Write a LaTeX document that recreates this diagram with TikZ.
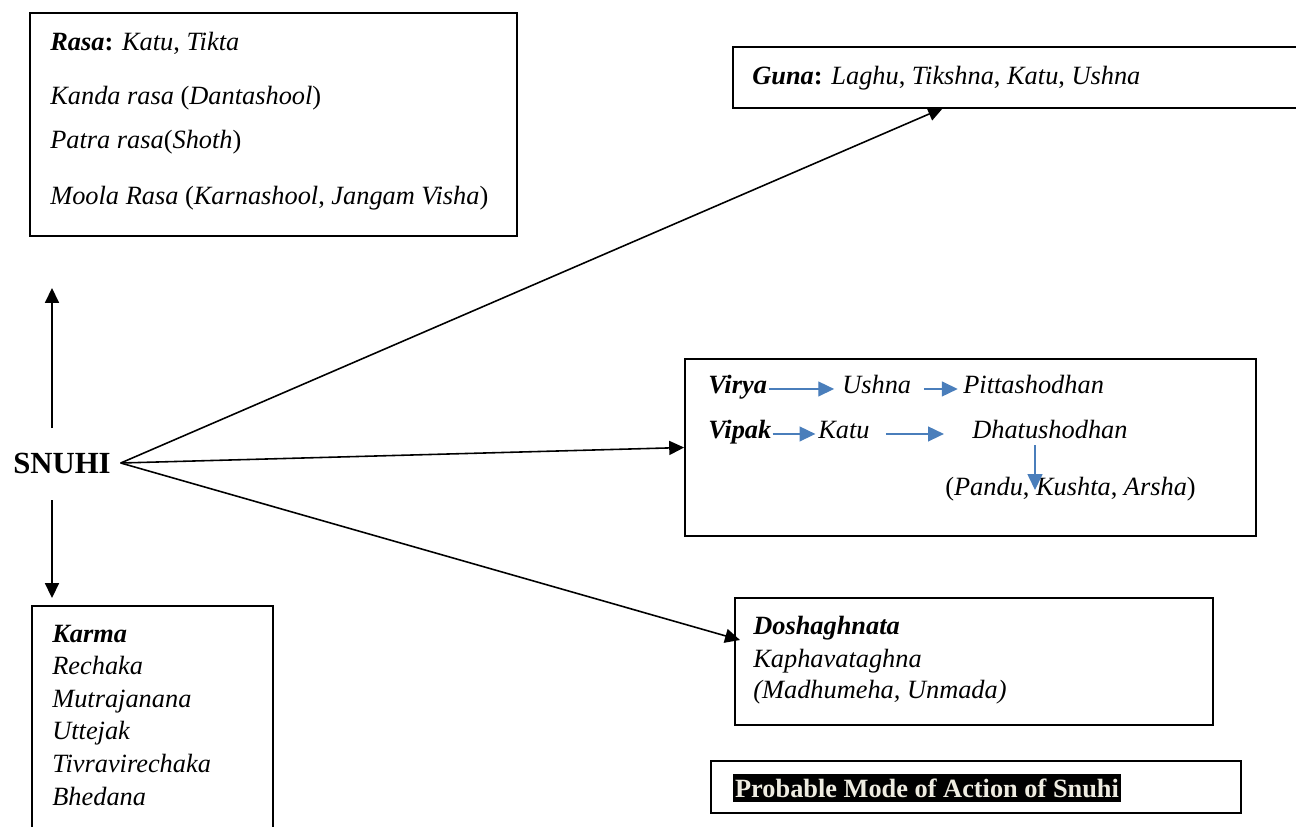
\documentclass[tikz,border=0pt]{standalone}
\usepackage{fontspec}
\setmainfont{Liberation Serif}
\usetikzlibrary{arrows.meta,fit}
\definecolor{vblue}{HTML}{4A7EBB}
\definecolor{cream}{HTML}{EEECE1}
\newcommand{\up}[1]{{\upshape #1}}
\tikzset{
    box/.style={draw, line width=1pt, inner sep=0pt},
    txt/.style={anchor=base west, inner sep=0pt, font=\fontsize{15}{18}\selectfont\itshape},
    link/.style={line width=0.9pt, -{Triangle[length=8.5pt,width=8pt]}},
    blink/.style={draw=vblue, line width=0.7pt, -{Triangle[length=9pt,width=8.5pt]}},
}
\begin{document}
\begin{tikzpicture}[x=0.02cm, y=-0.02cm]
                \useasboundingbox (0,0) rectangle (1296,826);
                
                % boxes
                \node[box, fit={(30,13) (517,236)}] (rasa) {};
                \node[box, fit={(733,47) (1310,108)}] (guna) {};
                \node[box, fit={(685,359) (1256,536)}] (virya) {};
                \node[box, fit={(735,598) (1213,725)}] (dosha) {};
                \node[box, fit={(32,606) (273,850)}] (karma) {};
                \node[box, fit={(711,761) (1241,813)}] (mode) {};
                
                \node[inner xsep=5.5pt, inner ysep=0pt, font=\fontsize{17.5}{20}\selectfont\bfseries] (snuhi) at (62,463) {SNUHI};
                
                % rasa
                \node[txt] (rasa1) at (50,50) {\textbf{Rasa}\up{\textbf{:}} Katu\up{,} Tikta};
                \node[txt] (rasa2) at (50,104) {Kanda rasa \up{(}Dantashool\up{)}};
                \node[txt] (rasa3) at (50,148) {Patra rasa\up{(}Shoth\up{)}};
                \node[txt] (rasa4) at (50,204) {Moola Rasa \up{(}Karnashool\up{,} Jangam Visha\up{)}};
                
                % guna
                \node[txt] (guna1) at (752,84) {\textbf{Guna}\up{\textbf{:}} Laghu\up{,} Tikshna\up{,} Katu\up{,} Ushna};
                
                % virya / vipak
                \node[txt] (viryalbl) at (708,393) {\textbf{Virya}};
                \node[txt] (ushna) at (842,393) {Ushna};
                \node[txt] (pitta) at (963,393) {Pittashodhan};
                \node[txt] (vipak) at (708,438) {\textbf{Vipak}};
                \node[txt] (katu) at (818,438) {Katu};
                \node[txt] (dhatu) at (972,438) {Dhatushodhan};
                \node[txt] (pandu) at (945,495) {\up{(}Pandu\up{,} Kushta\up{,} Arsha\up{)}};
                \coordinate (dfrom) at (1035,445);
                \coordinate (dto) at (1035,490);
                
                \draw[blink, shorten <=1pt, shorten >=4.5pt] (viryalbl.mid east) -- (ushna.mid west);
                \draw[blink, shorten <=7pt, shorten >=3pt] (ushna.mid east) -- (pitta.mid west);
                \draw[blink, shorten <=0.5pt, shorten >=1.5pt] (vipak.mid east) -- (katu.mid west);
                \draw[blink, shorten <=9pt, shorten >=16pt] (katu.mid east) -- (dhatu.mid west);
                \draw[blink] (dfrom) -- (dto);
                
                % doshaghnata
                \node[txt] (dosha1) at (753,634) {\textbf{Doshaghnata}};
                \node[txt] (dosha2) at (753,667) {Kaphavataghna};
                \node[txt] (dosha3) at (753,698) {(Madhumeha, Unmada)};
                
                % karma
                \node[txt] (karma0) at (52,642) {\textbf{Karma}};
                \foreach \w [count=\k from 1] in {Rechaka, Mutrajanana, Uttejak, Tivravirechaka, Bhedana} {
                    \node[txt] (karma\k) at (52,642+32.6*\k) {\w};
                }
                
                % title
                \node[anchor=base west, fill=black, text=cream, inner xsep=1pt, inner ysep=2.5pt,
                      font=\fontsize{15}{18}\selectfont\bfseries] (modetxt) at (733,797) {Probable Mode of Action of Snuhi};
                
                % connectors
                \coordinate (upfrom) at (52,428);
                \coordinate (upto) at (52,288);
                \coordinate (downfrom) at (52,500);
                \coordinate (downto) at (52,598);
                \coordinate (gunain) at (943,108);
                \coordinate (doshain) at (740,640);
                
                \draw[link] (upfrom) -- (upto);
                \draw[link] (downfrom) -- (downto);
                \draw[link] (snuhi.east) -- (gunain);
                \draw[link] (snuhi.east) -- (virya.west);
                \draw[link] (snuhi.east) -- (doshain);
            \end{tikzpicture}
\end{document}
